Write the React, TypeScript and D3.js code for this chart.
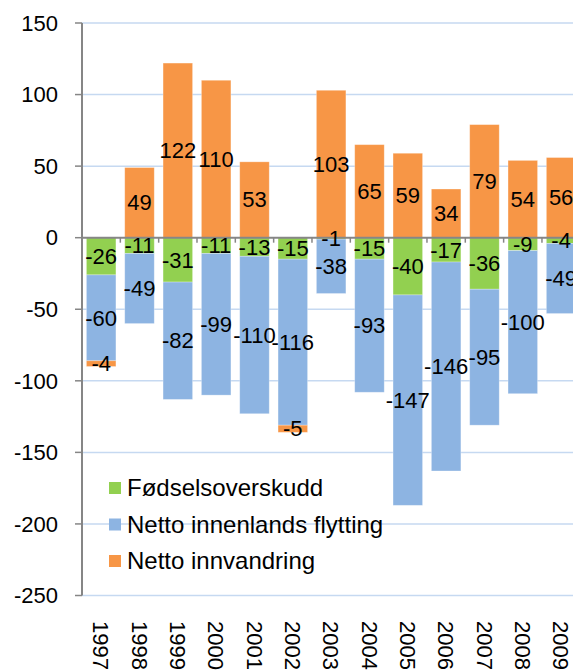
import React from "react";
import * as d3 from "d3";

const years = ["1997","1998","1999","2000","2001","2002","2003","2004","2005","2006","2007","2008","2009"];
const fodsel = [-26, -11, -31, -11, -13, -15, -1, -15, -40, -17, -36, -9, -4];
const innenlands = [-60, -49, -82, -99, -110, -116, -38, -93, -147, -146, -95, -100, -49];
const innvandring = [-4, 49, 122, 110, 53, -5, 103, 65, 59, 34, 79, 54, 56];
const seriesNames = ["Fødselsoverskudd", "Netto innenlands flytting", "Netto innvandring"];
const seriesColors = ["#92d050", "#8db4e2", "#f79646"];
const yTicks = [150, 100, 50, 0, -50, -100, -150, -200, -250];

const W = 573, H = 671;
const FONT = "Arial, 'Liberation Sans', sans-serif";

export default function App() {
  const axisX = 82;
  const y = d3.scaleLinear().domain([-250, 150]).range([595.5, 23]);
  const x = d3.scaleBand<string>().domain(years).range([axisX, axisX + 13 * 38.33]).paddingInner(0.23).paddingOuter(0.115);
  const keys = ["f", "i", "v"];
  const rows = years.map((yr, i) => ({ year: yr, f: fodsel[i], i: innenlands[i], v: innvandring[i] }));
  const stacked = d3.stack<any>().keys(keys).offset(d3.stackOffsetDiverging)(rows);
  const step = x.step();
  const bw = x.bandwidth();

  return (
    <svg width={W} height={H} style={{ position: "absolute", left: 0, top: 0, background: "#fff" }} fontFamily={FONT}>
      {yTicks.filter(t => t !== 0).map(t => (
        <line key={"g" + t} x1={axisX} x2={W} y1={y(t)} y2={y(t)} stroke="#c6d9f1" strokeWidth={1.5} />
      ))}
      {stacked.map((s, si) => (
        <g key={s.key} fill={seriesColors[si]}>
          {s.map((d, di) => {
            const top = y(Math.max(d[0], d[1]));
            const bot = y(Math.min(d[0], d[1]));
            return <rect key={di} x={x(years[di])} y={top} width={bw} height={Math.max(0, bot - top)} stroke="#ffffff" strokeOpacity={0.35} strokeWidth={0.8} />;
          })}
        </g>
      ))}
      <line x1={axisX} x2={W} y1={y(0)} y2={y(0)} stroke="#868686" strokeWidth={2} />
      {years.map((yr, i) => {
        const bx = axisX + i * step;
        return <line key={"ct" + yr} x1={bx} x2={bx} y1={y(0)} y2={y(0) + 5} stroke="#868686" strokeWidth={1.5} />;
      })}
      <line x1={axisX} x2={axisX} y1={y(150)} y2={y(-250)} stroke="#868686" strokeWidth={2} />
      {yTicks.map(t => (
        <g key={"t" + t}>
          <line x1={axisX - 7} x2={axisX} y1={y(t)} y2={y(t)} stroke="#868686" strokeWidth={1.5} />
          <text x={58} y={y(t)} dy="0.35em" textAnchor="end" fontSize={22} fill="#000">{t}</text>
        </g>
      ))}
      {stacked.map((s, si) => (
        <g key={"l" + s.key}>
          {s.map((d, di) => {
            const v = (d as any).data[keys[si]];
            const cy = y((d[0] + d[1]) / 2);
            return <text key={di} x={(x(years[di]) as number) + bw / 2} y={cy} dy="0.35em" textAnchor="middle" fontSize={22} fill="#000">{v}</text>;
          })}
        </g>
      ))}
      {years.map(yr => (
        <text key={"x" + yr} transform={`translate(${(x(yr) as number) + bw / 2},621) rotate(90)`} dy="0.35em" textAnchor="start" fontSize={22} fill="#000">{yr}</text>
      ))}
      {seriesNames.map((n, i) => {
        const cy = 488 + i * 36.5;
        return (
          <g key={"lg" + i}>
            <rect x={109} y={cy - 6} width={12} height={12} fill={seriesColors[i]} />
            <text x={127} y={cy} dy="0.35em" fontSize={24} fill="#000">{n}</text>
          </g>
        );
      })}
    </svg>
  );
}
